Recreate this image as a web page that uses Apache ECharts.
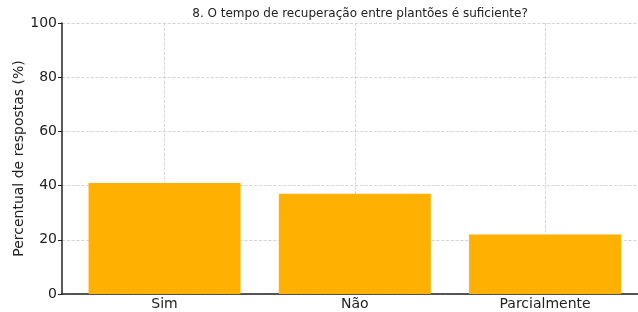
<!DOCTYPE html>
<html>
<head>
<meta charset="utf-8">
<script src="https://cdn.jsdelivr.net/npm/echarts@6/dist/echarts.min.js"></script>
<style>
html,body{margin:0;padding:0;background:#fff;}
#chart{width:638px;height:312px;}
</style>
</head>
<body>
<div id="chart"></div>
<script>
var categories = ['Sim', 'Não', 'Parcialmente'];
var percentuais = [41, 37, 22];
var yTicks = [0, 20, 40, 60, 80, 100];
var catPositions = [0, 1, 2];

var chartObj = echarts.init(document.getElementById('chart'));
var fonte = 'DejaVu Sans';
var barData = [];
for (var i = 0; i < categories.length; i++) {
	barData.push([catPositions[i], percentuais[i]]);
}
var option = {
	animation: false,
	title: {
		text: '8. O tempo de recuperação entre plantões é suficiente?',
		left: 355,
		top: 3,
		textAlign: 'center',
		textStyle: {fontFamily: fonte, fontSize: 12, fontWeight: 'normal', color: '#222'}
	},
	grid: {left: 62, width: 586, top: 23, bottom: 18, outerBoundsMode: 'none', containLabel: false},
	xAxis: {
		type: 'value',
		min: -0.539,
		max: 2.541,
		axisLine: {show: true, onZero: false, lineStyle: {color: '#222', width: 1.5}},
		axisTick: {show: false, customValues: catPositions},
		axisLabel: {
			customValues: catPositions,
			fontFamily: fonte, fontSize: 14, color: '#222', margin: 3,
			formatter: function (v) { return categories[Math.round(v)]; }
		},
		splitLine: {show: true, lineStyle: {color: '#cccccc', type: 'dashed', width: 0.8}}
	},
	yAxis: {
		type: 'value',
		min: 0,
		max: 100,
		interval: 20,
		name: 'Percentual de respostas (%)',
		nameLocation: 'middle',
		nameGap: 36,
		nameMoveOverlap: false,
		nameTextStyle: {fontFamily: fonte, fontSize: 14, color: '#222'},
		axisLine: {show: true, onZero: false, lineStyle: {color: '#222', width: 1.5}},
		axisTick: {show: true, length: 4, lineStyle: {color: '#222'}},
		axisLabel: {fontFamily: fonte, fontSize: 14, color: '#222', margin: 5},
		splitLine: {show: true, lineStyle: {color: '#cccccc', type: 'dashed', width: 0.8}}
	},
	series: [{
		type: 'bar',
		data: barData,
		barWidth: 152,
		itemStyle: {color: '#FFB000'},
		z: 1
	}]
};
chartObj.setOption(option);
</script>
</body>
</html>
